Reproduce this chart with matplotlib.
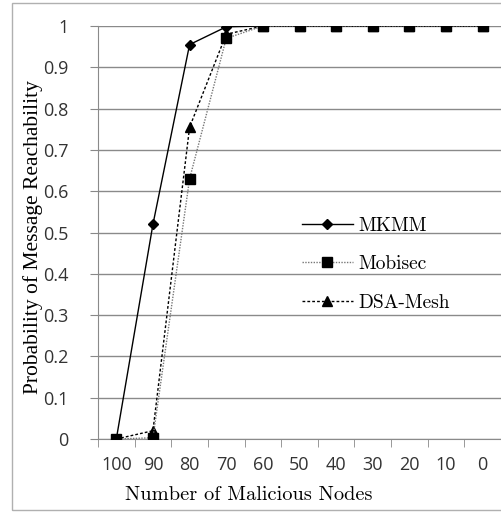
import numpy as np
import matplotlib.pyplot as plt
from matplotlib.patches import Rectangle

# data
nodes = ["100", "90", "80", "70", "60", "50", "40", "30", "20", "10", "0"]
mkmm = [0.0, 0.52, 0.955, 0.998, 1.0, 1.0, 1.0, 1.0, 1.0, 1.0, 1.0]
mobisec = [0.0, 0.003, 0.63, 0.97, 1.0, 1.0, 1.0, 1.0, 1.0, 1.0, 1.0]
dsa_mesh = [0.0, 0.02, 0.755, 0.98, 1.0, 1.0, 1.0, 1.0, 1.0, 1.0, 1.0]
yticks = [0, 0.1, 0.2, 0.3, 0.4, 0.5, 0.6, 0.7, 0.8, 0.9, 1]
ytick_labels = ["0", "0.1", "0.2", "0.3", "0.4", "0.5", "0.6", "0.7", "0.8", "0.9", "1"]

W, H = 501, 517
fig = plt.figure(figsize=(W/100, H/100), dpi=100)
ax = fig.add_axes([98/W, 1-439/H, 403/W, 413/H])

# outer chart border
fig.patches.append(Rectangle((12/W, 1-510/H), 495/W, 507/H, transform=fig.transFigure,
                             fill=False, edgecolor="#b0b0b0", lw=1.0))

x = np.arange(len(nodes))
ax.plot(x, mkmm, color="black", lw=1.0, marker="D", ms=5, label="MKMM", zorder=3)
ax.plot(x, mobisec, color="#777777", lw=1.0, ls=(0, (1, 1)), marker="s", ms=7.5,
        mfc="black", mec="black", label="Mobisec", zorder=4)
ax.plot(x, dsa_mesh, color="black", lw=1.0, ls=(0, (2, 1.5)), marker="^", ms=7.5,
        label="DSA-Mesh", zorder=3)

ax.set_xlim(-0.5, len(nodes) - 0.5)
ax.set_ylim(0, 1)
ax.set_yticks(yticks)
ax.set_yticklabels(ytick_labels)
ax.set_xticks(x)
ax.set_xticklabels(nodes)
ax.set_xticks(np.arange(len(nodes) + 1) - 0.5, minor=True)
ax.tick_params(axis="x", which="major", length=0, pad=12, labelsize=13, labelcolor="#333333")
ax.tick_params(axis="x", which="minor", length=6, color="#888888", direction="out")
ax.tick_params(axis="y", length=6, color="#888888", pad=15, labelsize=13, labelcolor="#333333")
for lab in ax.get_xticklabels() + ax.get_yticklabels():
    lab.set_family("Open Sans")

ax.grid(axis="y", color="#8a8a8a", lw=1.0)
ax.set_axisbelow(True)
for s in ["top", "right"]:
    ax.spines[s].set_visible(False)
ax.spines["left"].set_color("#8a8a8a")
ax.spines["bottom"].set_color("#8a8a8a")

ax.set_xlabel("Number of Malicious Nodes", family="cmr10", fontsize=14.7)
ax.xaxis.set_label_coords(0.375, -0.115)
ax.set_ylabel("Probability of Message Reachability", family="Liberation Serif", fontsize=15.5)
ax.yaxis.set_label_coords(-0.136, 0.489)

ax.legend(loc="upper left", bbox_to_anchor=(0.463, 0.58), frameon=False,
          prop={"family": "cmr10", "size": 14}, handlelength=2.6,
          handletextpad=0.3, labelspacing=1.05)

fig.savefig("out.png", dpi=100)
